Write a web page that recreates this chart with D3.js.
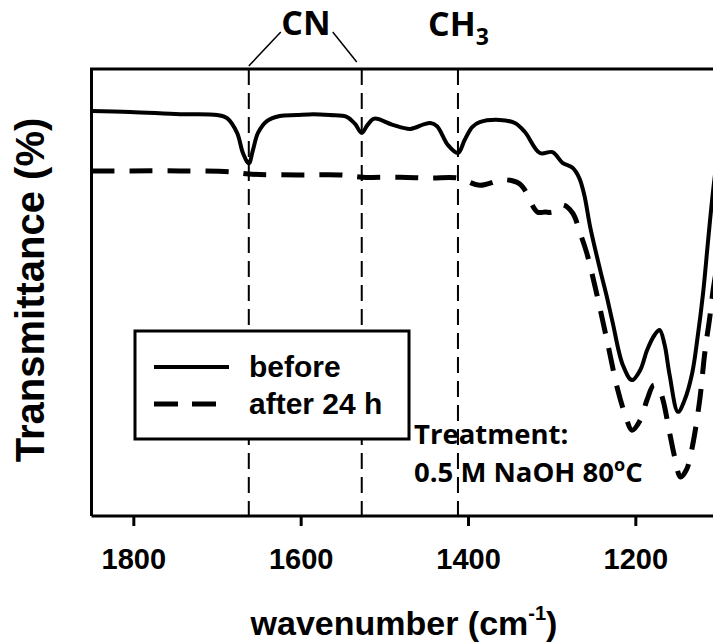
<!DOCTYPE html>
<html>
<head>
<meta charset="utf-8">
<script src="https://cdn.jsdelivr.net/npm/d3@7"></script>
<style>
  html, body { margin: 0; padding: 0; background: #fff; }
  svg { display: block; }
</style>
</head>
<body>
<svg id="chart" width="713" height="644"></svg>
<script>
// FTIR spectra, before and after the NaOH treatment
const beforeWn = [1850, 1804, 1744, 1700, 1688, 1676, 1669, 1662, 1657, 1651, 1640, 1625, 1605, 1585, 1565, 1545, 1535, 1527, 1520, 1512, 1490, 1469, 1453, 1445, 1437, 1424, 1412, 1404, 1395, 1386, 1362, 1344, 1332, 1314, 1299, 1287, 1275, 1267, 1261, 1254, 1242, 1234, 1227, 1215, 1204, 1194, 1186, 1177, 1171, 1165, 1159, 1149, 1141, 1132, 1126, 1119, 1113, 1107, 1101];
const beforeT  = [90.6, 90.4, 89.9, 89.7, 89.0, 85.7, 81.2, 78.9, 81.9, 85.7, 88.4, 89.5, 89.7, 89.9, 89.7, 89.3, 87.7, 85.7, 87.5, 88.9, 87.5, 86.6, 87.6, 87.9, 87.2, 83.0, 81.2, 84.1, 87.0, 88.1, 88.6, 87.9, 85.9, 81.2, 81.4, 79.0, 77.9, 75.6, 71.8, 64.7, 55.0, 49.0, 43.2, 33.8, 30.4, 32.7, 37.1, 40.5, 41.6, 38.3, 31.5, 23.3, 26.0, 32.0, 39.4, 49.9, 61.7, 72.9, 81.9];

const afterWn = [1850, 1804, 1744, 1684, 1662, 1601, 1553, 1527, 1481, 1445, 1412, 1386, 1360, 1347, 1338, 1332, 1317, 1308, 1299, 1287, 1275, 1266, 1258, 1248, 1234, 1221, 1212, 1204, 1194, 1186, 1178, 1172, 1167, 1159, 1153, 1146, 1139, 1132, 1123, 1117, 1111, 1107, 1101];
const afterT  = [77.2, 77.2, 77.2, 77.0, 76.5, 76.3, 76.3, 75.8, 75.8, 75.6, 75.6, 74.0, 75.2, 75.0, 74.3, 72.9, 68.0, 68.0, 68.0, 69.6, 67.8, 63.3, 58.8, 51.2, 39.4, 28.2, 22.6, 19.2, 21.5, 26.0, 29.3, 28.6, 26.0, 18.6, 13.2, 8.7, 10.3, 15.4, 26.0, 36.5, 44.5, 50.6, 57.3];

const xTicks = [1800, 1600, 1400, 1200];
const markerWn = [1662, 1527, 1412];
const legendLabels = ["before", "after 24 h"];

const svg = d3.select("#chart");
const W = 713, H = 644;
const plot = { left: 91.5, top: 69, right: 719, bottom: 516 };

const x = d3.scaleLinear().domain([1850, 1100]).range([plot.left, plot.right]);
const y = d3.scaleLinear().domain([0, 100]).range([plot.bottom, plot.top]);

const arial = "'Liberation Sans', Arial, sans-serif";
const calibri = "'Open Sans', 'Noto Sans', sans-serif";

svg.append("defs").append("clipPath").attr("id", "plotClip")
  .append("rect")
  .attr("x", plot.left).attr("y", plot.top)
  .attr("width", plot.right - plot.left).attr("height", plot.bottom - plot.top);

// band marker lines
svg.append("g").selectAll("line").data(markerWn).join("line")
  .attr("x1", d => x(d)).attr("x2", d => x(d))
  .attr("y1", plot.top).attr("y2", plot.bottom)
  .attr("stroke", "#000").attr("stroke-width", 2)
  .attr("stroke-dasharray", "16,8");

// spectra
const line = d3.line().x(d => x(d[0])).y(d => y(d[1])).curve(d3.curveCatmullRom.alpha(0.5));
const curves = svg.append("g").attr("clip-path", "url(#plotClip)");
curves.append("path")
  .datum(d3.zip(afterWn, afterT))
  .attr("d", line)
  .attr("fill", "none").attr("stroke", "#000").attr("stroke-width", 5)
  .attr("stroke-dasharray", "23,15");
curves.append("path")
  .datum(d3.zip(beforeWn, beforeT))
  .attr("d", line)
  .attr("fill", "none").attr("stroke", "#000").attr("stroke-width", 4)
  .attr("stroke-linejoin", "round");

// frame: left and top edges
svg.append("path")
  .attr("d", `M${plot.left},${plot.bottom}V${plot.top}H${W + 10}`)
  .attr("fill", "none").attr("stroke", "#000").attr("stroke-width", 3);

// bottom axis
const xAxis = d3.axisBottom(x).tickValues(xTicks).tickSize(10).tickPadding(22).tickFormat(d3.format("d"));
const gx = svg.append("g").attr("transform", `translate(0,${plot.bottom})`).call(xAxis);
gx.select(".domain").attr("d", `M${plot.left},0H${W + 10}`).attr("stroke-width", 3);
gx.selectAll(".tick line").attr("stroke-width", 3);
gx.selectAll(".tick text")
  .attr("font-family", arial).attr("font-weight", "bold").attr("font-size", 29).attr("fill", "#000");

// axis titles
const xt = svg.append("text")
  .attr("x", 404).attr("y", 635)
  .attr("text-anchor", "middle")
  .attr("font-family", arial).attr("font-weight", "bold").attr("font-size", 34);
xt.append("tspan").text("wavenumber (cm");
xt.append("tspan").attr("font-size", 20).attr("dy", -15).text("-1");
xt.append("tspan").attr("dy", 15).text(")");

svg.append("text")
  .attr("transform", "translate(44,290) rotate(-90)")
  .attr("text-anchor", "middle")
  .attr("font-family", arial).attr("font-weight", "bold").attr("font-size", 40)
  .text("Transmittance (%)");

// legend
const lg = svg.append("g");
lg.append("rect")
  .attr("x", 135).attr("y", 331).attr("width", 274).attr("height", 108)
  .attr("fill", "#fff").attr("stroke", "#000").attr("stroke-width", 3);
const legendStyles = [{ w: 4, dash: null }, { w: 5, dash: "24,14" }];
legendLabels.forEach((lab, i) => {
  const ly = 367 + i * 37;
  lg.append("line")
    .attr("x1", 154).attr("x2", i === 0 ? 229 : 217)
    .attr("y1", ly).attr("y2", ly)
    .attr("stroke", "#000").attr("stroke-width", legendStyles[i].w)
    .attr("stroke-dasharray", legendStyles[i].dash);
  lg.append("text")
    .attr("x", 249).attr("y", ly + 10)
    .attr("font-family", arial).attr("font-weight", "bold").attr("font-size", 30)
    .text(lab);
});

// band labels
svg.append("text")
  .attr("x", 306).attr("y", 35).attr("text-anchor", "middle")
  .attr("font-family", calibri).attr("font-weight", 700).attr("font-size", 34)
  .text("CN");
const ch = svg.append("text")
  .attr("x", 428).attr("y", 36)
  .attr("font-family", calibri).attr("font-weight", 700).attr("font-size", 34);
ch.append("tspan").text("CH");
ch.append("tspan").attr("font-size", 23).attr("dy", 9).text("3");

// connectors from the CN label to its two bands
svg.append("line")
  .attr("x1", x(markerWn[0])).attr("y1", plot.top - 3)
  .attr("x2", x(markerWn[0]) + 32).attr("y2", 32)
  .attr("stroke", "#000").attr("stroke-width", 1.5);
svg.append("line")
  .attr("x1", x(markerWn[1]) - 5).attr("y1", plot.top - 7)
  .attr("x2", x(markerWn[1]) - 29).attr("y2", 32)
  .attr("stroke", "#000").attr("stroke-width", 1.5);

// treatment note
const note = svg.append("text")
  .attr("font-family", calibri).attr("font-weight", 700).attr("font-size", 27.5);
note.append("tspan").attr("x", 414).attr("y", 444).text("Treatment:");
note.append("tspan").attr("x", 414).attr("y", 482).text("0.5 M NaOH 80");
note.append("tspan").attr("font-size", 18).attr("dy", -11).text("o");
note.append("tspan").attr("dy", 11).text("C");
</script>
</body>
</html>
